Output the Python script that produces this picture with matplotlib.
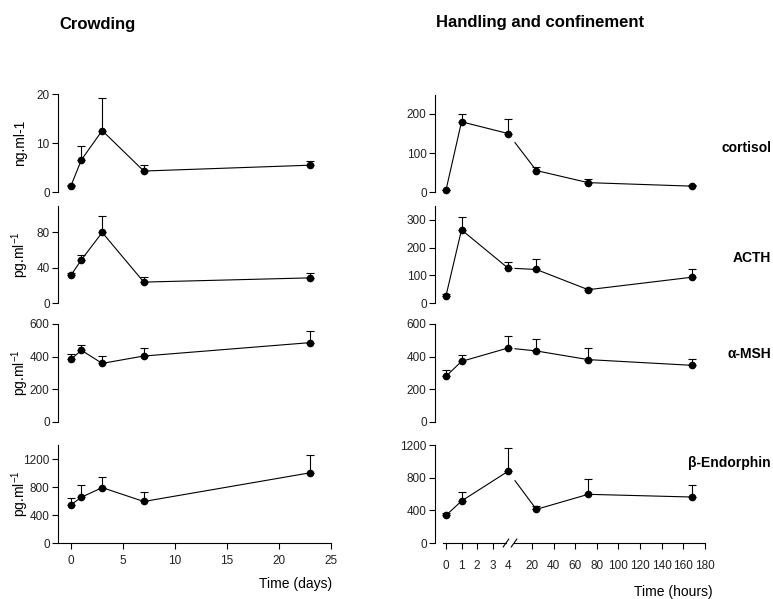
import numpy as np
import matplotlib
matplotlib.use("Agg")
import matplotlib.pyplot as plt
import matplotlib.transforms as mtransforms

plt.rcParams['font.family'] = ['Liberation Sans', 'DejaVu Sans']
plt.rcParams['mathtext.fontset'] = 'custom'
plt.rcParams['mathtext.rm'] = 'Liberation Sans'

# ---------- Dados ----------
dias = [0, 1, 3, 7, 23]
horas = [0, 1, 4, 24, 72, 168]

hormonios = ["cortisol", "ACTH", "α-MSH", "β-Endorphin"]
unidades = ["ng.ml-1", r"pg.ml$^{\mathregular{-1}}$",
            r"pg.ml$^{\mathregular{-1}}$", r"pg.ml$^{\mathregular{-1}}$"]

# Crowding (dias)
crowd_cortisol = [1.3, 6.6, 12.6, 4.3, 5.5]
crowd_cortisol_err = [0.2, 2.8, 6.6, 1.2, 0.8]
crowd_acth = [31.5, 49, 80, 23.7, 28.5]
crowd_acth_err = [2, 6, 19, 6, 5]
crowd_msh = [385, 439, 359, 404, 486]
crowd_msh_err = [33, 32, 47, 51, 73]
crowd_endo = [546, 654, 791, 593, 1003]
crowd_endo_err = [94, 175, 146, 132, 249]

# Handling and confinement (horas)
hand_cortisol = [5, 180, 150, 55, 24, 15]
hand_cortisol_err = [1, 21, 38, 10, 10, 4]
hand_acth = [26, 264, 126, 121, 48, 93]
hand_acth_err = [7, 47, 22, 36, 7, 29]
hand_msh = [280, 371, 453, 435, 382, 347]
hand_msh_err = [40, 41, 74, 75, 73, 39]
hand_endo = [339, 514, 878, 412, 596, 563]
hand_endo_err = [32, 114, 285, 45, 191, 147]

crowd_vals = [crowd_cortisol, crowd_acth, crowd_msh, crowd_endo]
crowd_errs = [crowd_cortisol_err, crowd_acth_err, crowd_msh_err, crowd_endo_err]
hand_vals = [hand_cortisol, hand_acth, hand_msh, hand_endo]
hand_errs = [hand_cortisol_err, hand_acth_err, hand_msh_err, hand_endo_err]

crowd_yticks = [[0, 10, 20], [0, 40, 80], [0, 200, 400, 600], [0, 400, 800, 1200]]
crowd_ylim = [20, 110, 600, 1400]
hand_yticks = [[0, 100, 200], [0, 100, 200, 300], [0, 200, 400, 600], [0, 400, 800, 1200]]
hand_ylim = [250, 350, 600, 1200]

dias_ticks = [0, 5, 10, 15, 20, 25]
horas_ticks = [0, 1, 2, 3, 4, 20, 40, 60, 80, 100, 120, 140, 160, 180]
# ----------------------------

W, H = 773, 599
LINHAS = [(94.5, 192), (206, 303), (324, 422), (445, 543)]  # topo/base em px
ESQ_X = (58, 331)
DIR_X = (435, 705)

# eixo quebrado: 0-4 h linear, depois 20-180 h comprimido
X20 = 5.55
K = 0.0697


def hpos(h):
    h = np.asarray(h, dtype=float)
    return np.where(h <= 4, h, X20 + (h - 20) * K)


def novo_eixo(fig, xs, linha):
    x0, x1 = xs
    top, bottom = linha
    return fig.add_axes([x0 / W, 1 - bottom / H, (x1 - x0) / W, (bottom - top) / H])


def estilo(ax):
    for s in ["top", "right", "bottom"]:
        ax.spines[s].set_visible(False)
    ax.spines["left"].set_linewidth(0.8)
    ax.tick_params(axis="y", direction="out", length=4, width=0.8,
                   labelsize=8.5, pad=2, labelcolor="#222222")
    ax.set_xticks([])


def desenhar(ax, x, y, err):
    ax.errorbar(x, y, yerr=[np.zeros(len(err)), err], fmt="none", ecolor="black",
                elinewidth=0.8, capsize=3, capthick=0.8, clip_on=False)
    ax.plot(x, y, ls="none", marker="o", ms=4.5, color="black", clip_on=False)


fig = plt.figure(figsize=(W / 100, H / 100), dpi=100)

for i in range(4):
    # ----- Crowding -----
    ax = novo_eixo(fig, ESQ_X, LINHAS[i])
    estilo(ax)
    ax.set_xlim(-1.25, 25)
    ax.set_ylim(0, crowd_ylim[i])
    ax.set_yticks(crowd_yticks[i])
    ax.plot(dias, crowd_vals[i], color="black", lw=0.8)
    desenhar(ax, dias, crowd_vals[i], crowd_errs[i])
    yc = 1 - (LINHAS[i][0] + LINHAS[i][1]) / 2 / H
    fig.text(20 / W, yc, unidades[i], rotation=90, ha="center", va="center", fontsize=10)
    if i == 3:
        ax.spines["bottom"].set_visible(True)
        ax.spines["bottom"].set_linewidth(0.8)
        ax.set_xticks(dias_ticks)
        ax.tick_params(axis="x", direction="out", length=4, width=0.8,
                       labelsize=8.5, pad=5, labelcolor="#222222")

    # ----- Handling and confinement -----
    ax = novo_eixo(fig, DIR_X, LINHAS[i])
    estilo(ax)
    ax.set_xlim(-0.71, 16.71)
    ax.set_ylim(0, hand_ylim[i])
    ax.set_yticks(hand_yticks[i])
    xp = hpos(horas)
    v = hand_vals[i]
    ax.plot(xp[:3], v[:3], color="black", lw=0.8)
    x_ini = 4.45
    y_ini = np.interp(x_ini, [xp[2], xp[3]], [v[2], v[3]])
    ax.plot([x_ini] + list(xp[3:]), [y_ini] + v[3:], color="black", lw=0.8)
    desenhar(ax, xp, v, hand_errs[i])
    ax.text(771 / W, 1 - [148, 258, 354, 463][i] / H, hormonios[i],
            transform=fig.transFigure, ha="right", va="center",
            fontsize=10, fontweight="bold")
    if i == 3:
        ax.set_xticks(hpos(horas_ticks))
        ax.set_xticklabels([str(t) for t in horas_ticks])
        ax.tick_params(axis="x", direction="out", length=4, width=0.8,
                       labelsize=8.5, pad=8, labelcolor="#222222")
        ax.xaxis.get_major_ticks()[4].tick1line.set_visible(False)
        tr = mtransforms.blended_transform_factory(ax.transData, ax.transAxes)
        ax.plot([-0.2, 3.87], [0, 0], color="black", lw=0.8, transform=tr, clip_on=False)
        ax.plot([4.39, 16.71], [0, 0], color="black", lw=0.8, transform=tr, clip_on=False)
        for xc in [3.87, 4.39]:
            ax.plot([xc - 0.18, xc + 0.18], [-0.04, 0.04], color="black", lw=0.8,
                    transform=tr, clip_on=False)
        ax.set_xlabel("")

fig.text(59 / W, 1 - 24 / H, "Crowding", ha="left", va="center",
         fontsize=12, fontweight="bold")
fig.text(436 / W, 1 - 23 / H, "Handling and confinement", ha="left", va="center",
         fontsize=12, fontweight="bold")
fig.text(332 / W, 1 - 584 / H, "Time (days)", ha="right", va="center", fontsize=10)
fig.text(713 / W, 1 - 592 / H, "Time (hours)", ha="right", va="center", fontsize=10)

fig.savefig("out.png", dpi=100)
